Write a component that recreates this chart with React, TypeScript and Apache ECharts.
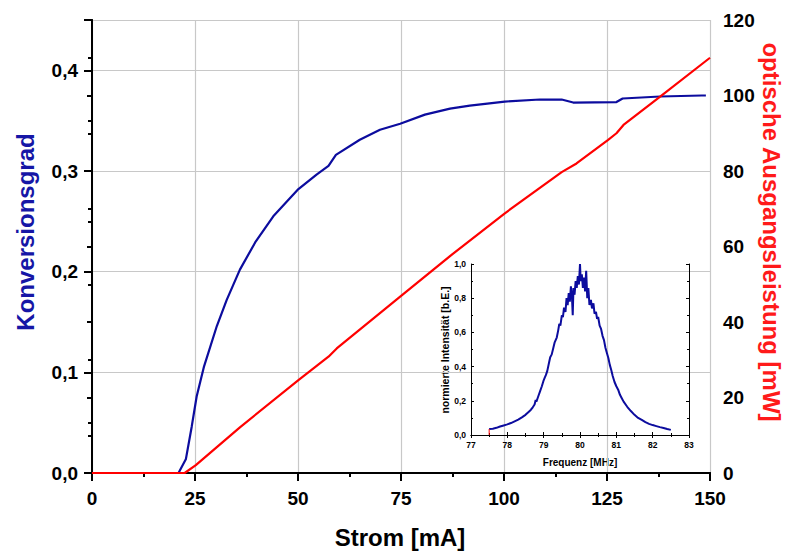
import React, { useEffect, useRef } from "react";
import * as echarts from "echarts";

// Main chart: Konversionsgrad vs Strom
const blueX = [0, 21, 22.8, 24.2, 25.4, 27.2, 30.3, 32.7, 35.9, 39.6, 44.0, 50.1, 54.5, 57.4, 59.2, 65.0, 69.9, 74.8, 80.8, 86.9, 91.7, 100.2, 108.7, 114.0, 116.8, 127.3, 128.8, 137.9, 148.0, 149];
const blueY = [0, 0, 0.014, 0.046, 0.076, 0.106, 0.146, 0.172, 0.202, 0.229, 0.255, 0.282, 0.2965, 0.305, 0.316, 0.331, 0.341, 0.347, 0.356, 0.362, 0.365, 0.369, 0.371, 0.371, 0.368, 0.3685, 0.372, 0.374, 0.375, 0.375];

// Main chart: optische Ausgangsleistung vs Strom
const redX = [0, 22.5, 25.2, 35.9, 50.1, 57.4, 59.4, 74.8, 87.5, 100.2, 114.0, 117.6, 125.2, 127.3, 129.0, 137.9, 150];
const redY = [0, 0, 2.1, 12.1, 24.6, 30.8, 33.0, 46.7, 58, 68.8, 79.7, 82.0, 88.2, 90.0, 92.2, 99.7, 110];

// Inset: spectrum
const freq = [77.5, 77.6, 77.7, 77.8, 77.9, 78.0, 78.1, 78.2, 78.3, 78.4, 78.5, 78.6, 78.65, 78.7, 78.75, 78.78, 78.8, 78.85, 78.9, 78.95, 79.0, 79.03, 79.06, 79.1, 79.15, 79.18, 79.22, 79.26, 79.3, 79.33, 79.36, 79.4, 79.43, 79.46, 79.5, 79.53, 79.56, 79.6, 79.63, 79.66, 79.69, 79.72, 79.75, 79.78, 79.8, 79.82, 79.85, 79.88, 79.91, 79.94, 79.97, 80.0, 80.02, 80.05, 80.08, 80.11, 80.14, 80.17, 80.2, 80.23, 80.26, 80.3, 80.33, 80.37, 80.4, 80.44, 80.47, 80.5, 80.54, 80.58, 80.62, 80.66, 80.7, 80.74, 80.78, 80.82, 80.86, 80.9, 80.95, 81.0, 81.05, 81.1, 81.15, 81.2, 81.3, 81.4, 81.5, 81.6, 81.7, 81.8, 81.9, 82.0, 82.1, 82.2, 82.3, 82.4, 82.5];
const intens = [0.035, 0.037, 0.042, 0.05, 0.056, 0.062, 0.07, 0.08, 0.09, 0.103, 0.118, 0.138, 0.148, 0.162, 0.178, 0.205, 0.195, 0.225, 0.255, 0.285, 0.32, 0.335, 0.35, 0.375, 0.425, 0.455, 0.47, 0.505, 0.54, 0.555, 0.57, 0.612, 0.65, 0.64, 0.7, 0.69, 0.745, 0.72, 0.8, 0.76, 0.83, 0.78, 0.87, 0.8, 0.7, 0.86, 0.82, 0.9, 0.86, 0.93, 0.88, 1.0, 0.9, 0.94, 0.86, 0.92, 0.84, 0.96, 0.8, 0.86, 0.76, 0.79, 0.74, 0.77, 0.71, 0.72, 0.68, 0.69, 0.64, 0.62, 0.58, 0.555, 0.51, 0.48, 0.45, 0.41, 0.38, 0.345, 0.31, 0.285, 0.265, 0.235, 0.215, 0.195, 0.165, 0.14, 0.118, 0.1, 0.088, 0.075, 0.065, 0.058, 0.052, 0.046, 0.041, 0.035, 0.03];
const startMarkX = [77.5, 77.5];
const startMarkY = [0, 0.035];

const FONT = "'Liberation Sans', Arial, sans-serif";
const BLUE = "#0c0c9e";
const RED = "#ff0000";

const zip = (a: number[], b: number[]) => a.map((v, i) => [v, b[i]]);
const comma = (v: number) => v.toFixed(1).replace(".", ",");

export default function App() {
  const ref = useRef<HTMLDivElement>(null);
  useEffect(() => {
    if (!ref.current) return;
    const chart = echarts.init(ref.current, undefined, { renderer: "svg" });
    const bigLabel = { fontFamily: FONT, fontWeight: "bold", fontSize: 19, color: "#000" };
    const smallLabel = { fontFamily: FONT, fontWeight: "bold", fontSize: 8.5, color: "#000" };
    const mainLine = { show: true, lineStyle: { color: "#000", width: 2 } };
    const insetLine = { show: true, lineStyle: { color: "#000", width: 1 } };
    const grayGrid = { show: true, lineStyle: { color: "#c8c8c8", width: 1.2 } };
    const option: any = {
      animation: false,
      backgroundColor: "#fff",
      grid: [
        { left: 92, top: 20, right: 79, bottom: 83 },
        { left: 471, top: 264, right: 100, bottom: 121 },
      ],
      xAxis: [
        {
          type: "value", gridIndex: 0, min: 0, max: 150, interval: 25, position: "bottom",
          axisLine: mainLine,
          axisTick: { show: true, inside: false, length: 8, lineStyle: { width: 2, color: "#000" } },
          minorTick: { show: true, splitNumber: 2, length: 4, lineStyle: { width: 2, color: "#000" } },
          axisLabel: { ...bigLabel, margin: 16 },
          splitLine: grayGrid,
        },
        {
          type: "value", gridIndex: 0, min: 0, max: 150, interval: 25, position: "top",
          axisLine: mainLine,
          axisTick: { show: true, inside: true, length: 5, lineStyle: { width: 2, color: "#000" } },
          minorTick: { show: true, splitNumber: 2, length: 4, lineStyle: { width: 2, color: "#000" } },
          axisLabel: { show: false },
          splitLine: { show: false },
        },
        {
          type: "value", gridIndex: 1, min: 77, max: 83, interval: 1, position: "bottom",
          axisLine: insetLine,
          axisTick: { show: true, inside: true, length: 3, lineStyle: { width: 1, color: "#000" } },
          minorTick: { show: true, splitNumber: 2, length: 2, lineStyle: { width: 1, color: "#000" } },
          axisLabel: { ...smallLabel, margin: 5 },
          splitLine: { show: false },
        },
        {
          type: "value", gridIndex: 1, min: 77, max: 83, interval: 1, position: "top",
          axisLine: insetLine,
          axisTick: { show: true, inside: true, length: 3, lineStyle: { width: 1, color: "#000" } },
          minorTick: { show: true, splitNumber: 2, length: 2, lineStyle: { width: 1, color: "#000" } },
          axisLabel: { show: false },
          splitLine: { show: false },
        },
      ],
      yAxis: [
        {
          type: "value", gridIndex: 0, min: 0, max: 0.45, interval: 0.1, position: "left",
          axisLine: mainLine,
          axisTick: { show: true, inside: false, length: 8, lineStyle: { width: 2, color: "#000" } },
          minorTick: { show: true, splitNumber: 2, length: 4, lineStyle: { width: 2, color: "#000" } },
          axisLabel: {
            ...bigLabel, margin: 14,
            formatter: (v: number) => (Math.abs(v * 10 - Math.round(v * 10)) < 1e-6 ? comma(v) : ""),
          },
          splitLine: grayGrid,
        },
        {
          type: "value", gridIndex: 0, min: 0, max: 120, interval: 20, position: "right",
          axisLine: mainLine,
          axisTick: { show: true, inside: true, length: 5, lineStyle: { width: 2, color: "#000" } },
          minorTick: { show: true, splitNumber: 2, length: 4, lineStyle: { width: 2, color: "#000" } },
          axisLabel: { ...bigLabel, margin: 13 },
          splitLine: { show: false },
        },
        {
          type: "value", gridIndex: 1, min: 0, max: 1, interval: 0.2, position: "left",
          axisLine: insetLine,
          axisTick: { show: true, inside: true, length: 3, lineStyle: { width: 1, color: "#000" } },
          minorTick: { show: true, splitNumber: 2, length: 2, lineStyle: { width: 1, color: "#000" } },
          axisLabel: { ...smallLabel, margin: 5, formatter: (v: number) => comma(v) },
          splitLine: { show: false },
        },
        {
          type: "value", gridIndex: 1, min: 0, max: 1, interval: 0.2, position: "right",
          axisLine: insetLine,
          axisTick: { show: true, inside: true, length: 3, lineStyle: { width: 1, color: "#000" } },
          minorTick: { show: true, splitNumber: 2, length: 2, lineStyle: { width: 1, color: "#000" } },
          axisLabel: { show: false },
          splitLine: { show: false },
        },
      ],
      series: [
        {
          type: "line", name: "Konversionsgrad", xAxisIndex: 0, yAxisIndex: 0,
          data: zip(blueX, blueY), showSymbol: false, symbol: "none",
          lineStyle: { color: BLUE, width: 2.2 }, z: 3,
        },
        {
          type: "line", name: "optische Ausgangsleistung", xAxisIndex: 0, yAxisIndex: 1,
          data: zip(redX, redY), showSymbol: false, symbol: "none",
          lineStyle: { color: RED, width: 2.2 }, z: 4,
        },
        {
          type: "line", name: "Spektrum", xAxisIndex: 2, yAxisIndex: 2,
          data: zip(freq, intens), showSymbol: false, symbol: "none",
          lineStyle: { color: BLUE, width: 2 }, z: 5,
        },
        {
          type: "line", name: "Start", xAxisIndex: 2, yAxisIndex: 2,
          data: zip(startMarkX, startMarkY), showSymbol: false, symbol: "none",
          lineStyle: { color: RED, width: 1 }, z: 5,
        },
      ],
      graphic: [
        {
          type: "text", x: 25, y: 232, rotation: Math.PI / 2,
          style: {
            text: "Konversionsgrad", fill: "#1616a6", font: `bold 24px ${FONT}`,
            textAlign: "center", textVerticalAlign: "middle", align: "center", verticalAlign: "middle",
          },
        },
        {
          type: "text", x: 771, y: 232, rotation: -Math.PI / 2,
          style: {
            text: "optische Ausgangsleistung [mW]", fill: "#ff1a1a", font: `bold 24px ${FONT}`,
            textAlign: "center", textVerticalAlign: "middle", align: "center", verticalAlign: "middle",
          },
        },
        {
          type: "text", x: 400, y: 537,
          style: {
            text: "Strom [mA]", fill: "#000", font: `bold 24px ${FONT}`,
            textAlign: "center", textVerticalAlign: "middle", align: "center", verticalAlign: "middle",
          },
        },
        {
          type: "text", x: 580, y: 462,
          style: {
            text: "Frequenz [MHz]", fill: "#000", font: `bold 10px ${FONT}`,
            textAlign: "center", textVerticalAlign: "middle", align: "center", verticalAlign: "middle",
          },
        },
        {
          type: "text", x: 445, y: 350, rotation: Math.PI / 2,
          style: {
            text: "normierte Intensität [b.E.]", fill: "#000", font: `bold 10.5px ${FONT}`,
            textAlign: "center", textVerticalAlign: "middle", align: "center", verticalAlign: "middle",
          },
        },
      ],
    };
    chart.setOption(option);
    return () => chart.dispose();
  }, []);
  return (
    <div
      ref={ref}
      style={{ position: "fixed", left: 0, top: 0, width: 789, height: 556, background: "#fff" }}
    />
  );
}
